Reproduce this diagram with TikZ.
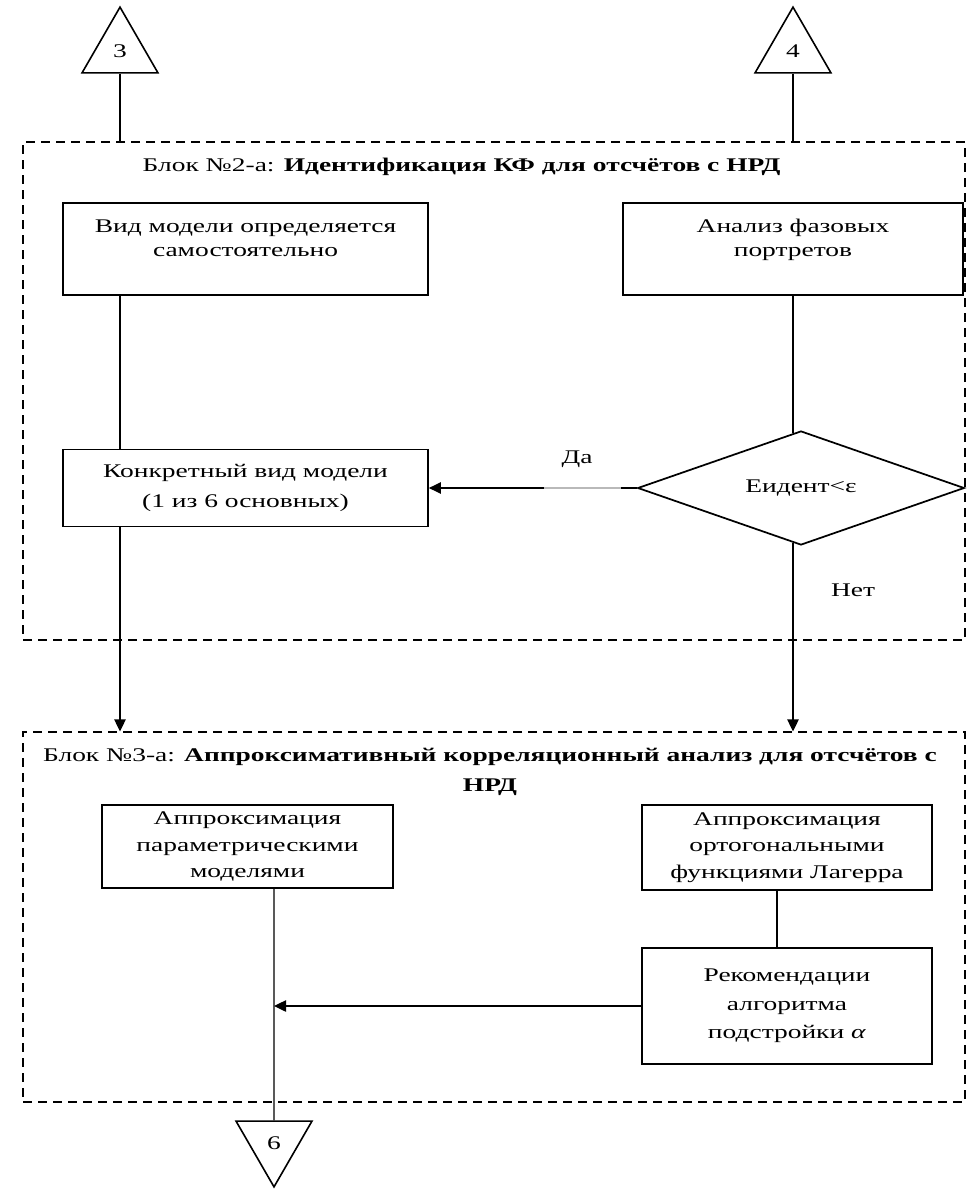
\documentclass[tikz,border=0pt]{standalone}
\usepackage{fontspec}
\setmainfont{Liberation Serif}[FakeStretch=1.42]
\usetikzlibrary{arrows,arrows.meta,positioning,shapes}

\begin{document}
\begin{tikzpicture}[x=0.75pt,y=-0.75pt,
  >={Triangle[length=9pt,width=8.5pt]},
  every node/.style={font=\fontsize{14.5pt}{20pt}\selectfont}
]
\useasboundingbox (0,0) rectangle (969,1189);

\tikzstyle{block}=[draw,rectangle,line width=1.3pt,align=center,inner sep=2pt]
\tikzstyle{frame}=[draw,rectangle,line width=0.8pt,dash pattern=on 6.75pt off 4.5pt,inner sep=0pt]
\tikzstyle{term}=[draw,regular polygon,regular polygon sides=3,minimum size=65.8pt,inner sep=0pt,line width=1.2pt]
\tikzstyle{link}=[line width=1pt]

% dashed frames of the two blocks
\node[frame,minimum width=706.5pt,minimum height=373.5pt] (f1) at (494,391) {};
\node[frame,minimum width=706.5pt,minimum height=277.5pt] (f2) at (494,917) {};

\node[anchor=west] (h1) at (138,167) {Блок №2-а: \textbf{Идентификация КФ для отсчётов с НРД}};
\node[align=center,font=\fontsize{14.5pt}{22pt}\selectfont] (h2) at (490,772) {Блок №3-а: \textbf{Аппроксимативный корреляционный анализ для отсчётов с}\\ \textbf{НРД}};

% connectors from other sheets
\node[term] (t3) at (120,51) {\raisebox{-4pt}{3}};
\node[term] (t4) at (793,51) {\raisebox{-4pt}{4}};
\node[term,shape border rotate=180] (t6) at (274,1143) {\raisebox{-3pt}{6}};

% block 2-a
\node[block,minimum width=273.75pt,minimum height=69pt,font=\fontsize{14.5pt}{18pt}\selectfont,text depth=17pt] (b1) at (245.5,249) {Вид модели определяется\\ самостоятельно};
\node[block,minimum width=255pt,minimum height=69pt,font=\fontsize{14.5pt}{18pt}\selectfont,text depth=17pt] (b2) at (793,249) {Анализ фазовых\\ портретов};
\node[block,minimum width=273.75pt,minimum height=57.75pt,font=\fontsize{14.5pt}{23pt}\selectfont] (b3) at (245.5,488) {Конкретный вид модели\\ (1 из 6 основных)};
\node[draw,diamond,aspect=3,line width=1.3pt,inner sep=0pt,minimum width=245pt,minimum height=85.5pt] (d1) at (801,488) {Еидент<ε};

% block 3-a
\node[block,minimum width=218.25pt,minimum height=62.25pt] (b4) at (247.5,846.5) {Аппроксимация\\ параметрическими\\ моделями};
\node[block,minimum width=217.5pt,minimum height=63.75pt] (b5) at (787,847.5) {Аппроксимация\\ ортогональными\\ функциями Лагерра};
\node[block,minimum width=217.5pt,minimum height=87pt,font=\fontsize{14.5pt}{21.5pt}\selectfont] (b6) at (787,1006) {Рекомендации\\ алгоритма\\ подстройки \textit{α}};

\coordinate (c1) at (120,0);
\coordinate (c2) at (274,0);
\coordinate (c3) at (777,0);

\draw[link] (t3.south) -- (t3.south |- f1.north);
\draw[link] (t4.south) -- (t4.south |- f1.north);
\draw[link] (c1 |- b1.south) -- (c1 |- b3.north);
\draw[link,->] (c1 |- b3.south) -- (c1 |- f2.north);
\draw[link,shorten >=-2.5pt] (b2.south) -- (b2.south |- d1.north);
\draw[link,shorten <=-2.5pt,->] (b2.south |- d1.south) -- (b2.south |- f2.north);
\draw[link,->] (d1.west) -- (b3.east);
\draw[gray!55,line width=1.6pt] (544,488) -- (621,488);
\node (yes) at (577,459) {Да};
\node (no) at (853,590) {Нет};

\draw[link] (c3 |- b5.south) -- (c3 |- b6.north);
\draw[link,->] (b6.west) -- (c2 |- b6.west);
\draw[link] (c2 |- b4.south) -- (t6.north);

\end{tikzpicture}
\end{document}
